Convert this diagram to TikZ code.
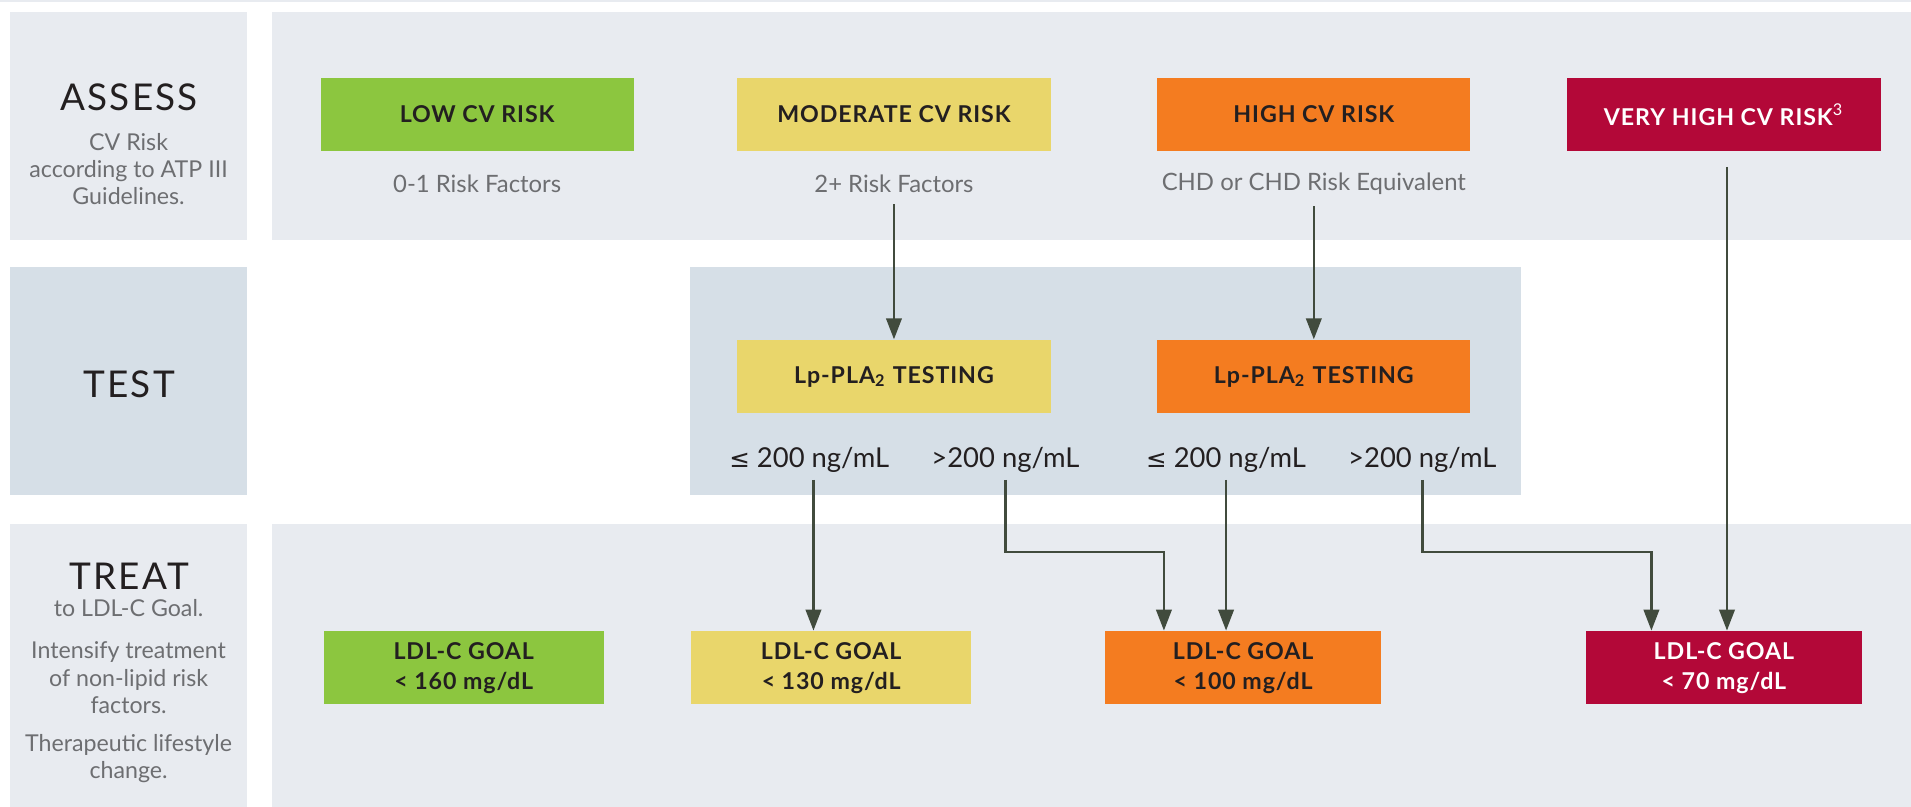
\documentclass[tikz,border=0pt]{standalone}
\usepackage{fontspec}
\setmainfont{Lato}
\newfontfamily\symbolfont{DejaVu Sans}
\usetikzlibrary{arrows.meta}

\newcommand{\upx}{0.012188cm}
\newcommand{\lesym}{{\symbolfont\fontsize{7}{9}\selectfont ≤}}

\definecolor{panellight}{HTML}{E8EBF0}
\definecolor{paneltest}{HTML}{D6DFE7}
\definecolor{riskgreen}{HTML}{8CC63F}
\definecolor{riskyellow}{HTML}{E9D66B}
\definecolor{riskorange}{HTML}{F47C20}
\definecolor{riskred}{HTML}{B30838}
\definecolor{ink}{HTML}{231F20}
\definecolor{softgray}{HTML}{6D6E71}
\definecolor{arrowgreen}{HTML}{414B3D}

\begin{document}
\begin{tikzpicture}[x=\upx,y=-\upx,
	riskbox/.style={minimum width=257*\upx, minimum height=60*\upx, inner sep=0pt, text=ink,
		font=\bfseries\fontsize{6.6}{8}\selectfont\addfontfeature{LetterSpace=4}},
	goalbox/.style={riskbox, minimum width=230*\upx, align=center,
		font=\bfseries\fontsize{6.6}{8.6}\selectfont\addfontfeature{LetterSpace=4}},
	subtext/.style={text=softgray, inner sep=3pt, font=\fontsize{6.8}{8}\selectfont},
	sidehead/.style={text=ink, font=\fontsize{10.5}{12}\selectfont\addfontfeature{LetterSpace=6}},
	sidetext/.style={text=softgray, align=center, font=\fontsize{6.6}{7.7}\selectfont},
	level/.style={text=ink, inner sep=2pt, font=\fontsize{7.8}{9}\selectfont},
	arr/.style={draw=arrowgreen, line width=0.75pt, -{Triangle[length=6pt,width=4.4pt]}}]

	\useasboundingbox (0,0) rectangle (1568,662);
	\fill[white] (0,0) rectangle (1568,662);

	\fill[panellight] (0,0) rectangle (1568,1.5);
	\fill[panellight] (8,10) rectangle (203,197);
	\fill[panellight] (223,10) rectangle (1568,197);
	\fill[paneltest] (8,219) rectangle (203,406);
	\fill[paneltest] (566,219) rectangle (1248,406);
	\fill[panellight] (8,430) rectangle (203,662);
	\fill[panellight] (223,430) rectangle (1568,662);

	\node[sidehead] (assess) at (106,80) {ASSESS};
	\node[sidetext] (assesstxt) at (105.5,139) {CV Risk\\according to ATP III\\Guidelines.};
	\node[sidehead] (test) at (106,315) {TEST};
	\node[sidehead] (treat) at (106,473) {TREAT};
	\node[sidetext] (treattxt) at (105.5,499) {to LDL-C Goal.};
	\node[sidetext] (intensify) at (105.5,556) {Intensify treatment\\of non-lipid risk\\factors.};
	\node[sidetext] (lifestyle) at (105.5,622.5) {Therapeutic lifestyle\\change.};

	\node[riskbox, fill=riskgreen] (low) at (391.5,94) {LOW CV RISK};
	\node[riskbox, fill=riskyellow] (mod) at (733.5,94) {MODERATE CV RISK};
	\node[riskbox, fill=riskorange] (high) at (1078,94) {HIGH CV RISK};
	\node[riskbox, fill=riskred, text=white] (vhigh) at (1414.5,94) {VERY HIGH CV RISK\textsuperscript{\mdseries 3}};

	\node[subtext] (lowtxt) at (391.5,151) {0-1 Risk Factors};
	\node[subtext] (modtxt) at (733.5,151) {2+ Risk Factors};
	\node[subtext] (hightxt) at (1078,151) {CHD or CHD Risk Equivalent};

	\node[riskbox, fill=riskyellow] (lpmod) at (733.5,309) {Lp-PLA\textsubscript{2} TESTING};
	\node[riskbox, fill=riskorange] (lphigh) at (1078,309) {Lp-PLA\textsubscript{2} TESTING};

	\node[level] (le1) at (664,377) {\lesym{} 200 ng/mL};
	\node[level] (gt1) at (825,377) {>200 ng/mL};
	\node[level] (le2) at (1006,377) {\lesym{} 200 ng/mL};
	\node[level] (gt2) at (1167,377) {>200 ng/mL};

	\node[goalbox, fill=riskgreen] (goallow) at (380.5,548) {LDL-C GOAL\\< 160 mg/dL};
	\node[goalbox, fill=riskyellow] (goalmod) at (682,548) {LDL-C GOAL\\< 130 mg/dL};
	\node[goalbox, fill=riskorange, minimum width=226*\upx] (goalhigh) at (1020,548) {LDL-C GOAL\\< 100 mg/dL};
	\node[goalbox, fill=riskred, text=white, minimum width=227*\upx] (goalvh) at (1414.5,548) {LDL-C GOAL\\< 70 mg/dL};

	\coordinate (k1) at (955,453);
	\coordinate (k2) at (1355,453);
	\coordinate (vh0) at (1417,137);

	\draw[arr] (modtxt.south) -- (lpmod.north);
	\draw[arr] (hightxt.south) -- (lphigh.north);
	\draw[arr] (vh0) -- (vh0 |- goalvh.north);

	\draw[arr] ([xshift=1.2pt]le1.south) -- ([xshift=1.2pt]le1.south |- goalmod.north);
	\draw[arr] (gt1.south) |- (k1) -- (k1 |- goalhigh.north);
	\draw[arr] (le2.south) -- (le2.south |- goalhigh.north);
	\draw[arr] (gt2.south) |- (k2) -- (k2 |- goalvh.north);

\end{tikzpicture}
\end{document}
